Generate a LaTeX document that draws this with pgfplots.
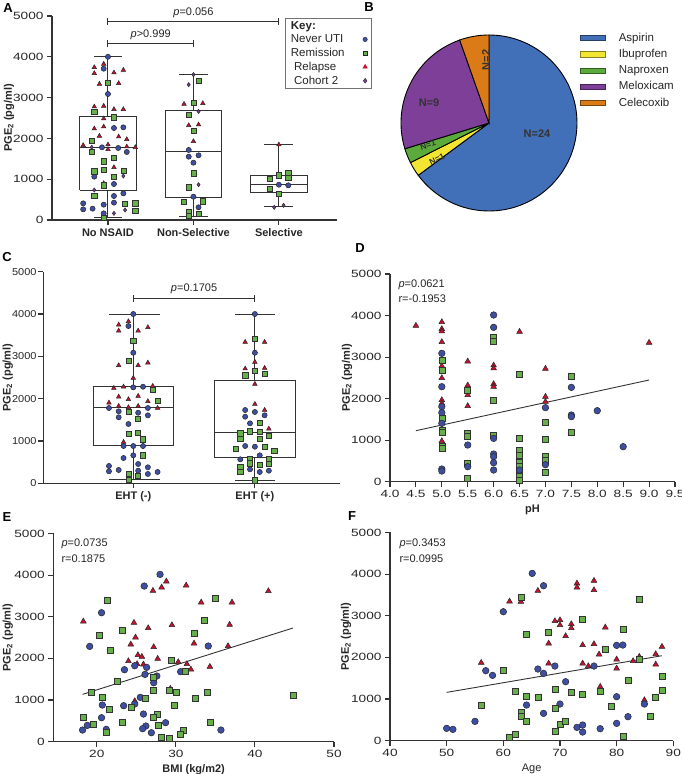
\documentclass[border=0pt]{standalone}
\usepackage{fontspec}
\setmainfont{Liberation Sans}
\newfontfamily\tickfnt[FakeStretch=1.3]{Liberation Sans}
\newfontfamily\tickfntc[FakeStretch=1.1]{Liberation Sans}
\usepackage{pgfplots}
\pgfplotsset{compat=1.18}
\definecolor{ublue}{HTML}{3E4FA3}
\definecolor{ugreen}{HTML}{66B04A}
\definecolor{ured}{HTML}{C8102E}
\definecolor{upurple}{HTML}{7B3F99}
\definecolor{axc}{HTML}{333333}
\definecolor{txt}{HTML}{262626}
\definecolor{pAsp}{HTML}{4270B8}
\definecolor{pIbu}{HTML}{F2E632}
\definecolor{pNap}{HTML}{5BAA3C}
\definecolor{pMel}{HTML}{7E3F98}
\definecolor{pCel}{HTML}{DB7B18}
\pgfplotsset{
  pge/.style={scale only axis, axis lines=left,
    axis line style={-, line width=1.1pt, draw=axc},
    tick style={line width=1.1pt, draw=axc}, tick align=outside, major tick length=5pt,
    ymin=0, ymax=5000, ytick={0,1000,2000,3000,4000,5000}, scaled ticks=false,
    /pgf/number format/assume math mode=true, /pgf/number format/1000 sep={},
    tick label style={font=\tickfnt\fontsize{10.5}{12}\selectfont, text=txt},
    ylabel={\textbf{PGE\textsubscript{2} (pg/ml)}},
    label style={font=\fontsize{11}{13}\selectfont, text=txt},
    clip=false},
  mb/.style={only marks, forget plot, mark=*, mark size=#1, mark options={fill=ublue, draw=black!85, line width=0.5pt}},
  mg/.style={only marks, forget plot, mark=square*, mark size=#1, mark options={fill=ugreen, draw=black!80, line width=0.5pt}},
  mr/.style={only marks, forget plot, mark=triangle*, mark size=#1, mark options={fill=ured, draw=black!85, line width=0.5pt}},
  mp/.style={only marks, forget plot, mark=diamond*, mark size=#1, mark options={fill=upurple, draw=black!85, line width=0.5pt}},
  bl/.style={draw=axc, line width=1pt, no marks, forget plot},
}
\begin{document}%
\pgfmathsetmacro\aA{90-360*24/37}%
\pgfmathsetmacro\aB{\aA-360*1/37}%
\pgfmathsetmacro\aC{\aB-360*1/37}%
\pgfmathsetmacro\aD{\aC-360*9/37}%
\pgfmathsetmacro\aE{\aD-360*2/37}%
\begin{tikzpicture}

% ---------------- A ----------------
\begin{axis}[pge, at={(52pt,554pt)}, anchor=south west, width=285pt, height=204pt,
  xmin=-0.655, xmax=2.68, xtick={0,1,2},
  ylabel style={at={(axis description cs:-0.151,0.5)}, anchor=center},
  xticklabels={No NSAID, Non-Selective, Selective},
  xticklabel style={font=\bfseries\fontsize{11}{13}\selectfont},
  legend plot pos=right, legend cell align=left,
  legend style={at={(axis description cs:0.818,0.99)}, anchor=north west, draw=black!55, line width=0.6pt,
    font=\fontsize{11.5}{13}\selectfont, text=txt, inner xsep=3.5pt, inner ysep=1pt, column sep=10pt}]
\addlegendimage{empty legend}\addlegendentry{\textbf{Key:}}
\addlegendimage{only marks, mark=*, mark size=2.2, mark options={fill=ublue, draw=black!85, line width=0.4pt}}\addlegendentry{Never UTI}
\addlegendimage{only marks, mark=square*, mark size=2.1, mark options={fill=ugreen, draw=black!85, line width=0.4pt}}\addlegendentry{Remission}
\addlegendimage{only marks, mark=triangle*, mark size=2.6, mark options={fill=ured, draw=ured, line width=0.4pt}}\addlegendentry{\ Relapse}
\addlegendimage{only marks, mark=diamond*, mark size=2.4, mark options={fill=upurple, draw=black!85, line width=0.4pt}}\addlegendentry{\ Cohort 2}
% boxes: No NSAID
\addplot[bl] coordinates {(-0.33,735) (0.33,735) (0.33,2532) (-0.33,2532) (-0.33,735)};
\addplot[bl] coordinates {(-0.33,1781) (0.33,1781)};
\addplot[bl] coordinates {(0,2532) (0,4000)};
\addplot[bl] coordinates {(0,735) (0,50)};
\addplot[bl] coordinates {(-0.16,4000) (0.16,4000)};
\addplot[bl] coordinates {(-0.16,50) (0.16,50)};
% Non-Selective
\addplot[bl] coordinates {(0.67,556) (1.33,556) (1.33,2696) (0.67,2696) (0.67,556)};
\addplot[bl] coordinates {(0.67,1667) (1.33,1667)};
\addplot[bl] coordinates {(1,2696) (1,3562)};
\addplot[bl] coordinates {(1,556) (1,82)};
\addplot[bl] coordinates {(0.83,3562) (1.17,3562)};
\addplot[bl] coordinates {(0.83,82) (1.17,82)};
% Selective
\addplot[bl] coordinates {(1.67,670) (2.34,670) (2.34,1095) (1.67,1095) (1.67,670)};
\addplot[bl] coordinates {(1.67,882) (2.34,882)};
\addplot[bl] coordinates {(2,1095) (2,1846)};
\addplot[bl] coordinates {(2,670) (2,327)};
\addplot[bl] coordinates {(1.83,1846) (2.17,1846)};
\addplot[bl] coordinates {(1.83,327) (2.17,327)};
\addplot[mr=2.6] coordinates {(-0.05,3824) (-0.16,3742) (-0.16,3595) (0.07,3611) (0.18,3676) (-0.10,3333) (0.125,3350) (-0.16,2777) (-0.05,2794) (0.07,2713) (0.18,2713) (-0.05,2484) (-0.16,2238) (-0.05,2287) (-0.10,2059) (0.125,2042) (0.22,1977) (-0.29,1830) (0,1846) (0,1732) (0.22,1797) (0.32,1781) (0.07,1291) (-0.05,899)
 (0.89,2843) (1.11,2859) (0.945,2320) (1.06,2336) (1,1928) (2,1846)};
\addplot[mb=2.6] coordinates {(0,4000) (-0.05,3708) (0,3088) (0.07,2255) (0.18,2271) (-0.07,1781) (0.12,1765) (0.22,1667) (-0.16,1062) (0.07,882) (0.18,653) (0.07,588) (-0.29,408) (-0.29,261) (-0.18,278) (-0.05,376) (-0.05,163) (0.07,425)
 (0.945,1716) (0.945,1552) (1.06,1585) (1,1405) (1,571) (1.06,311) (2,865) (2.11,850)};
\addplot[mg=2.6] coordinates {(0,3366) (-0.16,2655) (0.07,2516) (-0.19,1944) (-0.19,1667) (0.07,1520) (-0.05,1438) (-0.16,1193) (-0.05,1225) (0.18,1209) (0.07,1062) (-0.05,850) (-0.16,588) (0.32,408) (0.32,229) (0.2,392) (-0.05,49)
 (1.06,3415) (1,2875) (0.945,2581) (1,2189) (1,1144) (0.945,801) (0.89,441) (1.11,458) (0.945,196) (0.945,98) (1.06,147)
 (1.89,1013) (2,1095) (2.11,1160) (2.11,1029) (1.89,768) (2,637)};
\addplot[mp=2.1] coordinates {(-0.19,1781) (0.18,1078) (-0.16,735) (0.2,245) (0.07,163) (1,3562) (0.945,3317) (1.06,2663) (1.06,865) (1.945,310) (2.055,360)};
\addplot[bl] coordinates {(0,4870) (2,4870)};
\addplot[bl] coordinates {(0,4784) (0,4956)};
\addplot[bl] coordinates {(2,4784) (2,4956)};
\addplot[bl] coordinates {(0,4314) (1,4314)};
\addplot[bl] coordinates {(0,4228) (0,4400)};
\addplot[bl] coordinates {(1,4228) (1,4400)};
\node[font=\fontsize{11}{13}\selectfont, text=txt] at (axis cs:1,5090) {\textit{p}=0.056};
\node[font=\fontsize{11}{13}\selectfont, text=txt] at (axis cs:0.5,4530) {\textit{p}>0.999};
\end{axis}

% ---------------- B ----------------
\begin{axis}[at={(401pt,563pt)}, anchor=south west, scale only axis, width=176pt, height=176pt,
  xmin=-1, xmax=1, ymin=-1, ymax=1, hide axis, clip=false,
  legend cell align=left,
  legend style={at={(axis description cs:1.0,1.035)}, anchor=north west, draw=none, fill=none,
    font=\fontsize{11.5}{13}\selectfont, text=txt, row sep=2.5pt, column sep=11pt}]
\addlegendimage{legend image code/.code={\draw[fill=pAsp, draw=pAsp!55!black, line width=0.6pt] (0pt,-2.6pt) rectangle (25pt,2.6pt);}}\addlegendentry{Aspirin}
\addlegendimage{legend image code/.code={\draw[fill=pIbu, draw=pIbu!55!black, line width=0.6pt] (0pt,-2.6pt) rectangle (25pt,2.6pt);}}\addlegendentry{Ibuprofen}
\addlegendimage{legend image code/.code={\draw[fill=pNap, draw=pNap!55!black, line width=0.6pt] (0pt,-2.6pt) rectangle (25pt,2.6pt);}}\addlegendentry{Naproxen}
\addlegendimage{legend image code/.code={\draw[fill=pMel, draw=pMel!55!black, line width=0.6pt] (0pt,-2.6pt) rectangle (25pt,2.6pt);}}\addlegendentry{Meloxicam}
\addlegendimage{legend image code/.code={\draw[fill=pCel, draw=pCel!55!black, line width=0.6pt] (0pt,-2.6pt) rectangle (25pt,2.6pt);}}\addlegendentry{Celecoxib}
\filldraw[fill=pAsp, draw=black, line width=0.9pt] (axis cs:0,0) -- (axis cs:0,1) arc[start angle=90, end angle=\aA, radius=88pt] -- cycle;
\filldraw[fill=pIbu, draw=black, line width=0.9pt] (axis cs:0,0) -- (axis cs:{cos(\aA)},{sin(\aA)}) arc[start angle=\aA, end angle=\aB, radius=88pt] -- cycle;
\filldraw[fill=pNap, draw=black, line width=0.9pt] (axis cs:0,0) -- (axis cs:{cos(\aB)},{sin(\aB)}) arc[start angle=\aB, end angle=\aC, radius=88pt] -- cycle;
\filldraw[fill=pMel, draw=black, line width=0.9pt] (axis cs:0,0) -- (axis cs:{cos(\aC)},{sin(\aC)}) arc[start angle=\aC, end angle=\aD, radius=88pt] -- cycle;
\filldraw[fill=pCel, draw=black, line width=0.9pt] (axis cs:0,0) -- (axis cs:{cos(\aD)},{sin(\aD)}) arc[start angle=\aD, end angle=\aE, radius=88pt] -- cycle;
\end{axis}
\begin{scope}[font=\bfseries\fontsize{11}{13}\selectfont, text=black!80]
\node at (537pt,640pt) {N=24};
\node at (429pt,671pt) {N=9};
\node[rotate=90] at (486pt,714pt) {N=2};
\node[rotate=18, inner sep=0pt, font=\bfseries\fontsize{8.5}{10}\selectfont] at (428pt,629pt) {N=1};
\node[rotate=26, inner sep=0pt, font=\bfseries\fontsize{8.5}{10}\selectfont] at (437pt,615pt) {N=1};
\end{scope}

% ---------------- C ----------------
\begin{axis}[pge, at={(43.3pt,290.7pt)}, anchor=south west, width=296.7pt, height=211.6pt,
  xmin=-0.74, xmax=1.70, xtick={0,1},
  yticklabel style={font=\tickfntc\fontsize{10}{12}\selectfont, inner xsep=1.5pt},
  ylabel style={at={(axis description cs:-0.12,0.5)}, anchor=center},
  xticklabels={EHT (-), EHT (+)},
  xticklabel style={font=\bfseries\fontsize{11}{13}\selectfont}]
\addplot[bl] coordinates {(-0.33,889) (0.33,889) (0.33,2291) (-0.33,2291) (-0.33,889)};
\addplot[bl] coordinates {(-0.33,1786) (0.33,1786)};
\addplot[bl] coordinates {(0,2291) (0,4000)};
\addplot[bl] coordinates {(0,889) (0,78)};
\addplot[bl] coordinates {(-0.2,4000) (0.22,4000)};
\addplot[bl] coordinates {(-0.2,78) (0.22,78)};
\addplot[bl] coordinates {(0.67,598) (1.33,598) (1.33,2440) (0.67,2440) (0.67,598)};
\addplot[bl] coordinates {(0.67,1204) (1.33,1204)};
\addplot[bl] coordinates {(1,2440) (1,4000)};
\addplot[bl] coordinates {(1,598) (1,71)};
\addplot[bl] coordinates {(0.835,4000) (1.165,4000)};
\addplot[bl] coordinates {(0.835,71) (1.165,71)};
\addplot[mr=2.6] coordinates {(-0.12,3747) (-0.04,3826) (-0.12,3605) (0.04,3605) (0.12,3685) (-0.12,2787) (0.04,2787) (0.12,2849) (0,2488) (-0.16,2251) (-0.08,2282) (0.16,2298) (-0.12,2046) (-0.04,1984) (0.04,2062) (0.12,1937) (-0.2,1904) (-0.12,1826) (-0.04,1795) (0.04,1826) (0.2,1779) (-0.08,976)
 (0.92,3338) (1.08,3338) (1,2866) (0.92,2708) (1.08,2724) (1,2346) (1,1873) (1.08,1731) (1.115,1290)};
\addplot[mb=2.6] coordinates {(0,4000) (-0.04,3716) (0,3085) (0,2267) (0.08,2282) (-0.2,1779) (0.12,1779) (-0.12,1701) (0.04,1668) (-0.12,1559) (0.12,1606) (-0.04,1401) (-0.08,881) (0,881) (0.08,881) (0,661) (-0.08,598) (-0.2,409) (-0.2,283) (-0.12,315) (0.04,456) (0.04,298) (0.12,378) (0.12,220) (0.2,267)
 (1,4000) (1,3085) (0.92,1731) (1,1685) (1.08,1606) (0.92,1574) (0.96,1417) (0.92,881) (1,865) (0.88,566) (1.04,661) (0.96,330) (1.04,267) (1.115,298)};
\addplot[mg=2.6] coordinates {(0,3369) (-0.04,2896) (0.16,2204) (0.2,1951) (-0.04,1684) (0.04,1526) (-0.04,1164) (0.04,1195) (0.08,1039) (0.08,661) (-0.04,220) (0.04,173) (-0.04,78)
 (1,3416) (1,2660) (0.92,2551) (1.08,2598) (1.04,1432) (0.88,1181) (0.96,1228) (1.04,1212) (1.115,1117) (0.88,1054) (1.04,1054) (1.08,865) (0.84,818) (1.16,771) (0.96,582) (1.115,582) (0.96,472) (1.115,456) (0.88,393) (1.04,440) (0.88,267) (1,71)};
\addplot[bl] coordinates {(0,4370) (1,4370)};
\addplot[bl] coordinates {(0,4287) (0,4453)};
\addplot[bl] coordinates {(1,4287) (1,4453)};
\node[font=\fontsize{11}{13}\selectfont, text=txt] at (axis cs:0.5,4590) {\textit{p}=0.1705};
\end{axis}

% ---------------- D ----------------
\begin{axis}[pge, at={(390pt,292.3pt)}, anchor=south west, width=285pt, height=207.7pt,
  xmin=4, xmax=9.5, xtick={4,4.5,...,9.5},
  ylabel style={at={(axis description cs:-0.151,0.5)}, anchor=center},
  xticklabel style={/pgf/number format/.cd, fixed, fixed zerofill, precision=1},
  xlabel={\textbf{pH}}]
\addplot[mr=3.3] coordinates {(4.5,3756) (5,3844) (5,3676) (5,3620) (5,3363) (5,2785) (5,2496) (5,1966) (5,1886) (5,979) (5.5,2897) (5.5,2320) (5.5,2087) (5.5,1822) (6,2801) (6,2729) (6,2352) (6,2287) (6.5,3612) (7,2721) (7,2047) (7,1926) (9,3347)};
\addplot[mg=3] coordinates {(5,2913) (5,2673) (5,1517) (5,1228) (5,1180) (5,843) (5,795) (5.5,2207) (5.5,1164) (5.5,1083) (5.5,441) (5.5,80) (6,3475) (6,3371) (6,1950) (6,1124) (6.5,2584) (6.5,1043) (6.5,762) (6.5,642) (6.5,457) (6.5,377) (6.5,200) (6.5,120) (6.5,40) (7,1429) (7,1027) (7,602) (7,522) (7,217) (7.5,2544) (7.5,1188)};
\addplot[mb=3.3] coordinates {(5,3090) (5,2287) (5,1806) (5,1661) (5,1405) (5,305) (5,257) (5.5,883) (5.5,361) (6,4013) (6,3716) (6,1043) (6,666) (6,602) (6,457) (6,281) (6.5,281) (7,1782) (7,409) (7.5,2271) (7.5,1605) (7.5,1565) (8,1709) (8.5,843)};
\addplot[bl, line width=0.9pt] coordinates {(4.5,1228) (9,2448)};
\end{axis}

% ---------------- E ----------------
\begin{axis}[pge, at={(53.3pt,32.3pt)}, anchor=south west, width=280.7pt, height=208.3pt,
  xmin=14.5, xmax=50, xtick={20,30,40,50},
  ylabel style={at={(axis description cs:-0.162,0.5)}, anchor=center},
  xlabel={\textbf{BMI (kg/m2)}}]
\addplot[mr=3.3] coordinates {(27.1,3624) (28.2,3704) (28.8,3848) (31.3,3752) (41.7,3616) (33.2,3344) (37.1,3344) (18.3,2888) (24.7,2856) (26.5,2728) (29.5,2800) (36.8,2808) (24.9,2504) (24.3,2336) (27.2,2272) (32.3,2360) (36.6,2296) (25.2,2080) (25.7,2040) (27.7,1992) (30.3,1912) (24.0,1936) (25.1,1864) (25.9,1856) (31.4,1864) (34.3,1800) (31.9,1736) (29.3,1272) (24.8,976)};
\addplot[mb=3.3] coordinates {(28.0,4016) (26.0,3736) (20.6,3096) (19.1,2288) (34.1,2296) (24.8,1824) (26.3,1784) (23.5,1728) (26.1,1616) (27.6,1576) (30.6,1680) (27.2,1416) (25.5,1064) (24.8,904) (20.7,880) (23.4,864) (25.9,664) (20.6,576) (18.8,392) (28.7,456) (26.2,376) (25.8,312) (18.2,280) (21.2,296) (26.9,216) (35.7,280)};
\addplot[mg=3] coordinates {(21.3,3400) (35.0,3432) (33.6,2920) (23.2,2672) (20.3,2560) (32.3,2600) (21.7,2200) (29.4,1952) (27.1,1552) (31.2,1680) (22.6,1440) (19.3,1176) (20.7,1056) (27.2,1240) (29.2,1224) (30.0,1176) (34.0,1192) (44.9,1120) (32.4,1048) (26.1,1040) (24.4,824) (29.8,864) (21.6,776) (27.7,656) (27.2,584) (18.3,584) (19.5,424) (23.2,456) (34.3,464) (27.8,392) (21.2,216) (30.9,264) (30.6,168) (28.2,104) (29.2,72)};
\addplot[bl, line width=0.9pt] coordinates {(18.2,1136) (44.8,2728)};
\end{axis}

% ---------------- F ----------------
\begin{axis}[pge, at={(390pt,33.3pt)}, anchor=south west, width=283.3pt, height=208.3pt,
  xmin=40, xmax=90, xtick={40,50,...,90},
  ylabel style={at={(axis description cs:-0.155,0.5)}, anchor=center},
  xlabel={Age}]
\addplot[mr=3.3] coordinates {(56.1,1872) (61.1,3344) (63.1,3336) (66.1,3600) (68.0,2336) (68.0,1856) (69.1,2872) (70.0,2896) (70.0,2776) (71.0,2512) (72.0,2800) (72.0,2704) (73.0,3776) (73.0,3680) (74.0,2296) (74.0,1856) (75.0,1792) (76.0,3840) (76.0,3616) (76.0,2320) (76.9,2072) (77.1,1296) (78.0,2720) (80.0,1952) (80.0,1736) (82.9,1912) (84.0,2016) (84.9,976) (86.9,2080) (86.9,1832) (88.0,2256)};
\addplot[mb=3.3] coordinates {(50.0,296) (51.1,272) (55.0,464) (56.9,1680) (58.1,1568) (60.0,3096) (64.1,856) (65.1,4016) (66.1,1720) (67.1,3720) (67.1,1616) (67.1,656) (69.1,1792) (70.0,880) (71.0,1416) (73.0,320) (74.0,376) (74.0,208) (76.0,1792) (77.1,288) (80.0,2288) (80.0,1056) (80.0,416) (81.1,2296) (82.0,576) (84.9,880)};
\addplot[mg=3] coordinates {(56.1,856) (60.0,1680) (61.1,72) (62.1,160) (62.1,1192) (63.1,3440) (63.1,672) (63.1,592) (64.1,2552) (64.1,1056) (64.1,472) (66.1,1040) (68.0,2592) (69.1,1232) (69.1,776) (69.1,216) (70.0,384) (71.0,456) (72.0,1168) (74.0,2912) (74.0,1120) (77.1,1192) (78.0,2200) (79.0,816) (81.1,2672) (81.1,96) (82.0,1440) (84.0,1952) (84.0,3392) (86.0,592) (86.9,1040) (88.0,1536) (88.0,1216)};
\addplot[bl, line width=0.9pt] coordinates {(50,1160) (88,2040)};
\end{axis}

% ---------------- annotations ----------------
\begin{scope}[font=\fontsize{11}{13}\selectfont, text=txt]
\node[anchor=west] at (395pt,489pt) {\textit{p}=0.0621};
\node[anchor=west] at (395pt,475pt) {r=-0.1953};
\node[anchor=west] at (58pt,230pt) {\textit{p}=0.0735};
\node[anchor=west] at (58pt,215pt) {r=0.1875};
\node[anchor=west] at (396pt,230pt) {\textit{p}=0.3453};
\node[anchor=west] at (396pt,215pt) {r=0.0995};
\end{scope}
\begin{scope}[font=\bfseries\fontsize{13}{15}\selectfont, text=black]
\node at (8pt,766pt) {A};
\node at (369pt,767pt) {B};
\node at (7pt,517pt) {C};
\node at (360pt,526pt) {D};
\node at (7pt,257pt) {E};
\node at (352pt,258pt) {F};
\end{scope}
\pgfresetboundingbox
\path[use as bounding box] (0pt,0pt) rectangle (682pt,774pt);
\end{tikzpicture}%
\end{document}
